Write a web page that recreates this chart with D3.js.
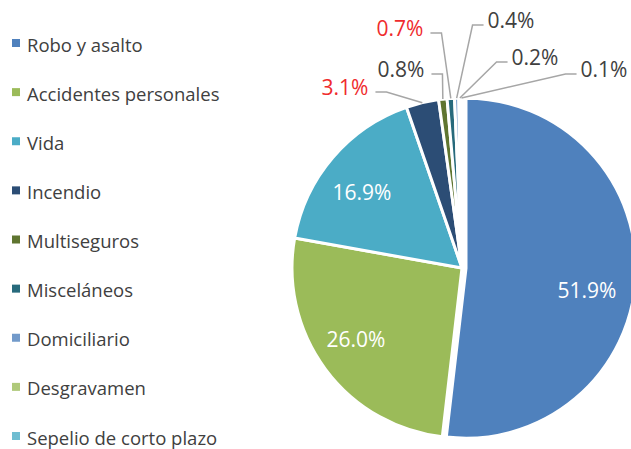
<!DOCTYPE html>
<html>
<head>
<meta charset="utf-8">
<script src="https://cdn.jsdelivr.net/npm/d3@7"></script>
<style>
  body { margin: 0; background: #fff; }
  svg { display: block; font-family: "Open Sans", sans-serif; }
</style>
</head>
<body>
<svg id="chart" width="631" height="449"></svg>
<script>
// categories and shares (%)
const categories = ["Robo y asalto", "Accidentes personales", "Vida", "Incendio", "Multiseguros",
                    "Misceláneos", "Domiciliario", "Desgravamen", "Sepelio de corto plazo"];
const shares = [51.9, 26.0, 16.9, 3.1, 0.8, 0.7, 0.4, 0.2, 0.1];
const labelTexts = ["51.9%", "26.0%", "16.9%", "3.1%", "0.8%", "0.7%", "0.4%", "0.2%", "0.1%"];
const colors = ["#4f81bd", "#9bbb59", "#4bacc6", "#2c4d75", "#5f7530",
                "#276a7c", "#729aca", "#afc97a", "#6fbdd1"];

// layout (where Excel put each label)
const cx = 462, cy = 268, R = 170;
const labelPos = [
  [587, 290, "in"], [356, 339, "in"], [362, 192, "in"],
  [345, 87, "left"], [401, 69, "left"], [400, 28, "left"],
  [511, 20, "right"], [535, 57, "right"], [604, 69, "right"]
];
const redLabels = ["3.1%", "0.7%"];

const svg = d3.select("#chart");

const data = categories.map((c, i) => ({ name: c, value: shares[i], label: labelTexts[i], color: colors[i] }));

const pie = d3.pie().sort(null).value(d => d.value);
const arcs = pie(data);
const arc = d3.arc().innerRadius(0).outerRadius(R);

const g = svg.append("g").attr("transform", `translate(${cx},${cy})`);

// slices, first one pulled out a little
g.selectAll("path")
  .data(arcs)
  .enter()
  .append("path")
  .attr("d", arc)
  .attr("fill", d => d.data.color)
  .attr("stroke", "#fff")
  .attr("stroke-width", 3)
  .attr("stroke-linejoin", "round")
  .attr("transform", (d, i) => {
    if (i !== 0) return null;
    const a = (d.startAngle + d.endAngle) / 2;
    return `translate(${4 * Math.sin(a)},${-4 * Math.cos(a)})`;
  });

// leader lines for the small slices
const outer = arcs.map((d, i) => ({ d, pos: labelPos[i] })).filter(o => o.pos[2] !== "in");
const lineFn = d3.line();

const labelG = svg.append("g");

outer.forEach(o => {
  const a = (o.d.startAngle + o.d.endAngle) / 2;
  const ex = cx + R * Math.sin(a), ey = cy - R * Math.cos(a);
  const t = labelG.append("text")
    .attr("x", o.pos[0]).attr("y", o.pos[1])
    .attr("text-anchor", "middle")
    .attr("dominant-baseline", "central")
    .attr("font-size", 21)
    .attr("fill", redLabels.includes(o.d.data.label) ? "#ef2b2d" : "#404040")
    .text(o.d.data.label);
  const w = t.node().getComputedTextLength();
  const ly = o.pos[1] + 5;
  let sx, kx;
  if (o.pos[2] === "left") { sx = o.pos[0] + w / 2 + 7; kx = sx + 11; }
  else { sx = o.pos[0] - w / 2 - 4; kx = sx - 11; }
  labelG.insert("path", "text")
    .attr("d", lineFn([[sx, ly], [kx, ly], [ex, ey]]))
    .attr("fill", "none")
    .attr("stroke", "#a6a6a6")
    .attr("stroke-width", 1.5);
});

// inside labels
arcs.forEach((d, i) => {
  if (labelPos[i][2] !== "in") return;
  labelG.append("text")
    .attr("x", labelPos[i][0]).attr("y", labelPos[i][1])
    .attr("text-anchor", "middle")
    .attr("dominant-baseline", "central")
    .attr("font-size", 21)
    .attr("fill", "#fff")
    .text(d.data.label);
});

// legend
const legendY = d3.scalePoint().domain(categories).range([43, 436]);
const legend = svg.append("g").selectAll("g")
  .data(data)
  .enter()
  .append("g")
  .attr("transform", d => `translate(0,${legendY(d.name)})`);

legend.append("rect")
  .attr("x", 12).attr("y", -4)
  .attr("width", 8).attr("height", 8)
  .attr("fill", d => d.color);

legend.append("text")
  .attr("x", 27).attr("y", 1)
  .attr("dominant-baseline", "central")
  .attr("font-size", 18.5)
  .attr("fill", "#404040")
  .text(d => d.name);
</script>
</body>
</html>
